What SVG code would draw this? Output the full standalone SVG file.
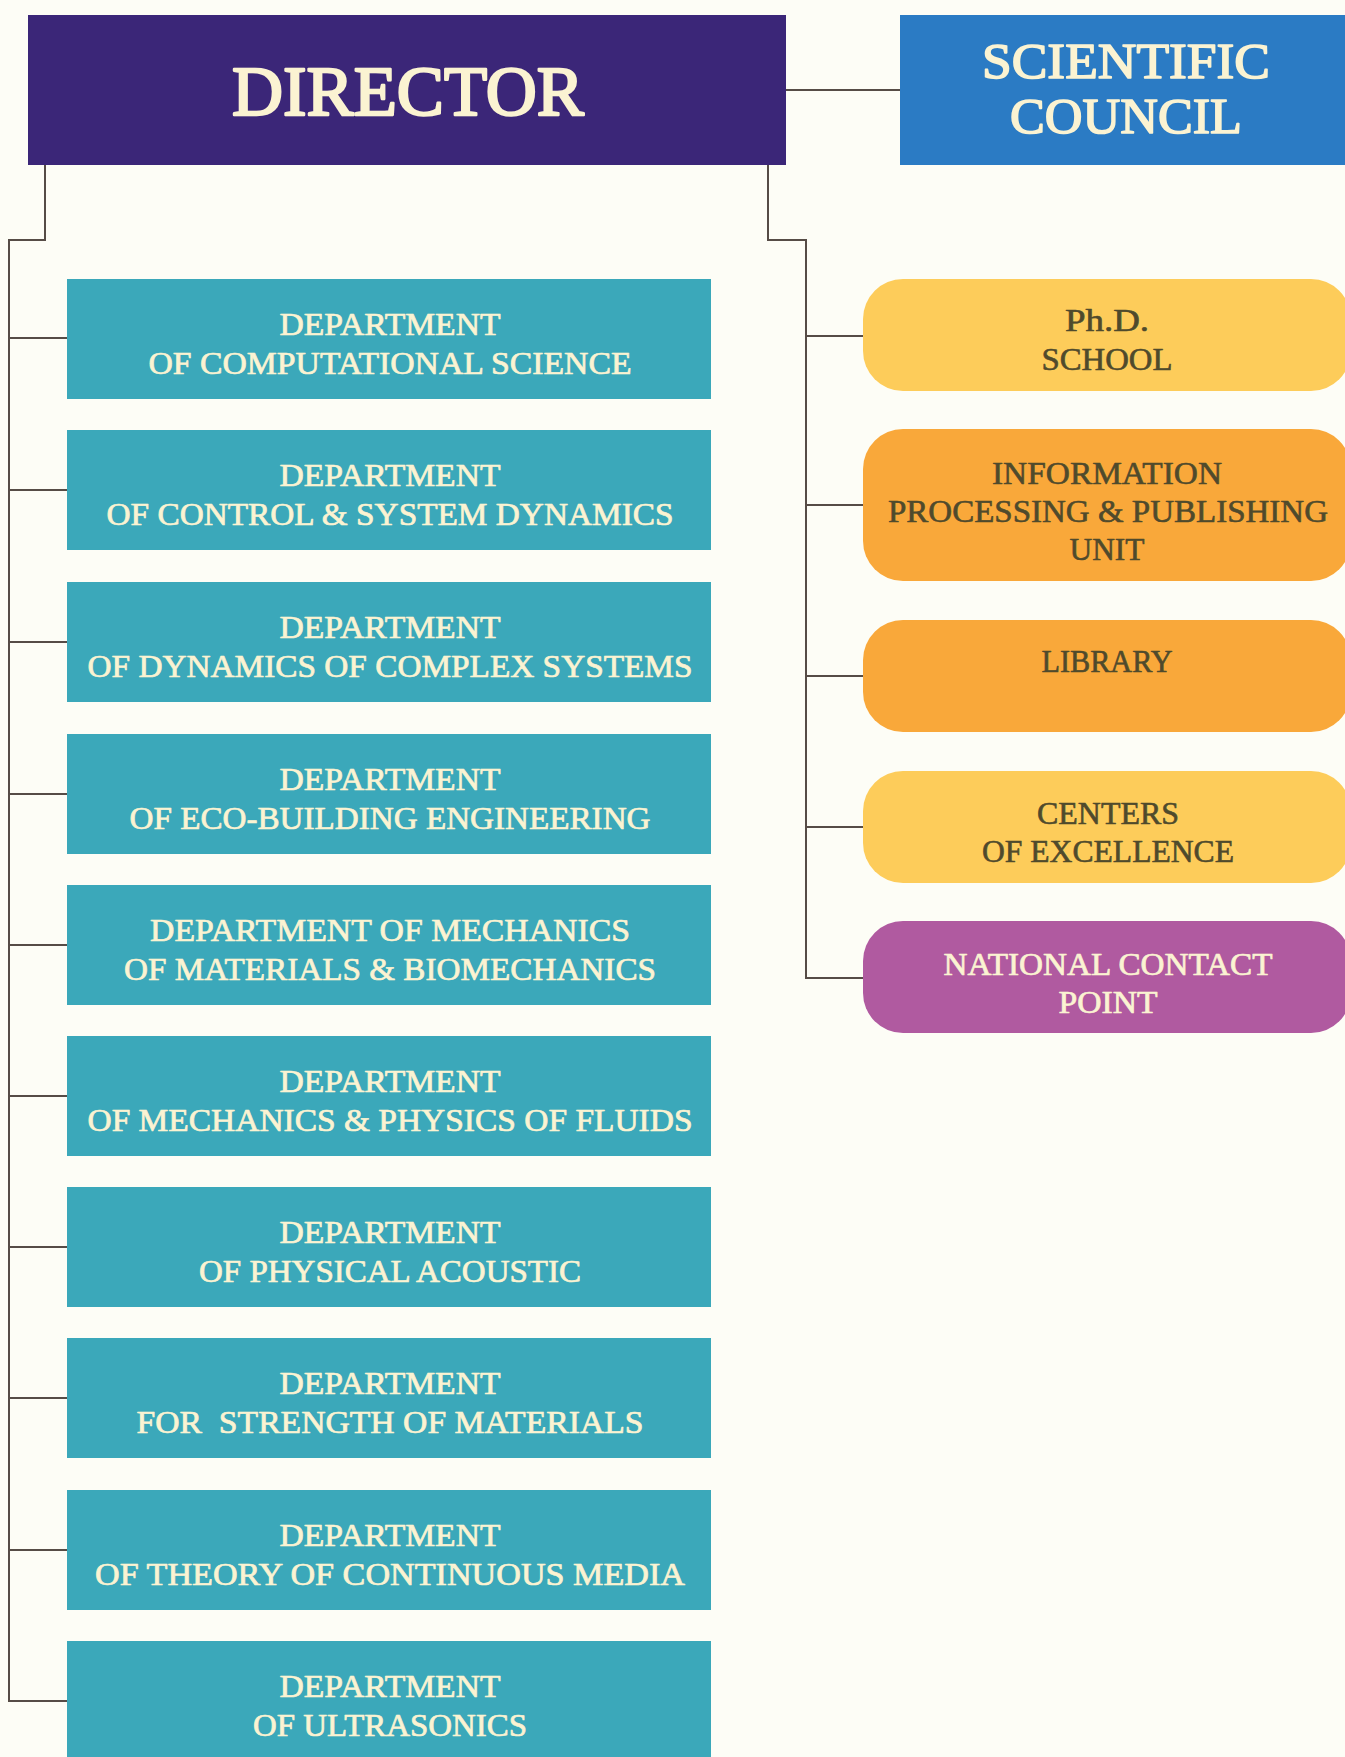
<svg xmlns="http://www.w3.org/2000/svg" width="1345" height="1757" viewBox="0 0 1345 1757">
  <style>
    .bg { fill: #fdfdf6; }
    .head { fill: #3b2678; }
    .council { fill: #2b7bc4; }
    .dept { fill: #3ba8ba; }
    .pill-y { fill: #fdcc5a; }
    .pill-o { fill: #f9a83a; }
    .pill-p { fill: #b05aa0; }
    .link { fill: none; stroke: #564c46; stroke-width: 2; }
    text { font-family: "Liberation Serif", "DejaVu Serif", serif; text-anchor: middle; stroke-linejoin: round; }
    .t-big { font-size: 70px; fill: #fbf3d2; stroke: #fbf3d2; stroke-width: 2.4px; }
    .t-sc { font-size: 51px; fill: #fbf3d2; stroke: #fbf3d2; stroke-width: 1.6px; }
    .t-dept { font-size: 31px; fill: #fbf3d2; stroke: #fbf3d2; stroke-width: 0.7px; }
    .t-pill { font-size: 31px; fill: #4f4a2c; stroke: #4f4a2c; stroke-width: 0.6px; }
    .t-pill-light { font-size: 31px; fill: #fbf3d2; stroke: #fbf3d2; stroke-width: 0.7px; }
  </style>

  <rect class="bg" x="0" y="0" width="1345" height="1757"/>

  <!-- connectors -->
  <g id="connectors">
    <path class="link" d="M786,90 H900"/>
    <path class="link" d="M45,165 V240 H9 V1701 H67"/>
    <path class="link" d="M9,338 H67 M9,490 H67 M9,642 H67 M9,794 H67 M9,945 H67 M9,1096 H67 M9,1247 H67 M9,1398 H67 M9,1550 H67"/>
    <path class="link" d="M768,165 V240 H806 V978 H863"/>
    <path class="link" d="M806,336 H863 M806,505 H863 M806,676 H863 M806,827 H863"/>
  </g>

  <!-- top level -->
  <g id="director">
    <rect class="head" x="28" y="15" width="758" height="150"/>
    <text class="t-big" x="408" y="115" textLength="352" lengthAdjust="spacingAndGlyphs">DIRECTOR</text>
  </g>
  <g id="scientific-council">
    <rect class="council" x="900" y="15" width="445" height="150"/>
    <text class="t-sc" x="1126" y="78" textLength="288" lengthAdjust="spacingAndGlyphs">SCIENTIFIC</text>
    <text class="t-sc" x="1126" y="133" textLength="232" lengthAdjust="spacingAndGlyphs">COUNCIL</text>
  </g>

  <!-- departments -->
  <g id="dept-computational-science">
    <rect class="dept" x="67" y="279" width="644" height="120"/>
    <text class="t-dept" x="390" y="335" textLength="221" lengthAdjust="spacingAndGlyphs">DEPARTMENT</text>
    <text class="t-dept" x="390" y="374" textLength="483" lengthAdjust="spacingAndGlyphs">OF COMPUTATIONAL SCIENCE</text>
  </g>
  <g id="dept-control-system-dynamics">
    <rect class="dept" x="67" y="430" width="644" height="120"/>
    <text class="t-dept" x="390" y="486" textLength="221" lengthAdjust="spacingAndGlyphs">DEPARTMENT</text>
    <text class="t-dept" x="390" y="525" textLength="567" lengthAdjust="spacingAndGlyphs">OF CONTROL &amp; SYSTEM DYNAMICS</text>
  </g>
  <g id="dept-complex-systems">
    <rect class="dept" x="67" y="582" width="644" height="120"/>
    <text class="t-dept" x="390" y="638" textLength="221" lengthAdjust="spacingAndGlyphs">DEPARTMENT</text>
    <text class="t-dept" x="390" y="677" textLength="605" lengthAdjust="spacingAndGlyphs">OF DYNAMICS OF COMPLEX SYSTEMS</text>
  </g>
  <g id="dept-eco-building">
    <rect class="dept" x="67" y="734" width="644" height="120"/>
    <text class="t-dept" x="390" y="790" textLength="221" lengthAdjust="spacingAndGlyphs">DEPARTMENT</text>
    <text class="t-dept" x="390" y="829" textLength="521" lengthAdjust="spacingAndGlyphs">OF ECO-BUILDING ENGINEERING</text>
  </g>
  <g id="dept-materials-biomechanics">
    <rect class="dept" x="67" y="885" width="644" height="120"/>
    <text class="t-dept" x="390" y="941" textLength="480" lengthAdjust="spacingAndGlyphs">DEPARTMENT OF MECHANICS</text>
    <text class="t-dept" x="390" y="980" textLength="532" lengthAdjust="spacingAndGlyphs">OF MATERIALS &amp; BIOMECHANICS</text>
  </g>
  <g id="dept-fluids">
    <rect class="dept" x="67" y="1036" width="644" height="120"/>
    <text class="t-dept" x="390" y="1092" textLength="221" lengthAdjust="spacingAndGlyphs">DEPARTMENT</text>
    <text class="t-dept" x="390" y="1131" textLength="605" lengthAdjust="spacingAndGlyphs">OF MECHANICS &amp; PHYSICS OF FLUIDS</text>
  </g>
  <g id="dept-physical-acoustic">
    <rect class="dept" x="67" y="1187" width="644" height="120"/>
    <text class="t-dept" x="390" y="1243" textLength="221" lengthAdjust="spacingAndGlyphs">DEPARTMENT</text>
    <text class="t-dept" x="390" y="1282" textLength="382" lengthAdjust="spacingAndGlyphs">OF PHYSICAL ACOUSTIC</text>
  </g>
  <g id="dept-strength-of-materials">
    <rect class="dept" x="67" y="1338" width="644" height="120"/>
    <text class="t-dept" x="390" y="1394" textLength="221" lengthAdjust="spacingAndGlyphs">DEPARTMENT</text>
    <text class="t-dept" x="390" y="1433" textLength="507" lengthAdjust="spacingAndGlyphs" xml:space="preserve">FOR  STRENGTH OF MATERIALS</text>
  </g>
  <g id="dept-continuous-media">
    <rect class="dept" x="67" y="1490" width="644" height="120"/>
    <text class="t-dept" x="390" y="1546" textLength="221" lengthAdjust="spacingAndGlyphs">DEPARTMENT</text>
    <text class="t-dept" x="390" y="1585" textLength="590" lengthAdjust="spacingAndGlyphs">OF THEORY OF CONTINUOUS MEDIA</text>
  </g>
  <g id="dept-ultrasonics">
    <rect class="dept" x="67" y="1641" width="644" height="125"/>
    <text class="t-dept" x="390" y="1697" textLength="221" lengthAdjust="spacingAndGlyphs">DEPARTMENT</text>
    <text class="t-dept" x="390" y="1736" textLength="274" lengthAdjust="spacingAndGlyphs">OF ULTRASONICS</text>
  </g>

  <!-- units -->
  <g id="phd-school">
    <rect class="pill-y" x="863" y="279" width="488" height="112" rx="40" ry="40"/>
    <text class="t-pill" x="1107" y="331" textLength="84" lengthAdjust="spacingAndGlyphs">Ph.D.</text>
    <text class="t-pill" x="1107" y="370" textLength="131" lengthAdjust="spacingAndGlyphs">SCHOOL</text>
  </g>
  <g id="publishing-unit">
    <rect class="pill-o" x="863" y="429" width="488" height="152" rx="40" ry="40"/>
    <text class="t-pill" x="1107" y="484" textLength="230" lengthAdjust="spacingAndGlyphs">INFORMATION</text>
    <text class="t-pill" x="1108" y="522" textLength="440" lengthAdjust="spacingAndGlyphs">PROCESSING &amp; PUBLISHING</text>
    <text class="t-pill" x="1107" y="560" textLength="75" lengthAdjust="spacingAndGlyphs">UNIT</text>
  </g>
  <g id="library">
    <rect class="pill-o" x="863" y="620" width="488" height="112" rx="40" ry="40"/>
    <text class="t-pill" x="1107" y="672" textLength="131" lengthAdjust="spacingAndGlyphs">LIBRARY</text>
  </g>
  <g id="centers-of-excellence">
    <rect class="pill-y" x="863" y="771" width="488" height="112" rx="40" ry="40"/>
    <text class="t-pill" x="1108" y="824" textLength="142" lengthAdjust="spacingAndGlyphs">CENTERS</text>
    <text class="t-pill" x="1108" y="862" textLength="252" lengthAdjust="spacingAndGlyphs">OF EXCELLENCE</text>
  </g>
  <g id="national-contact-point">
    <rect class="pill-p" x="863" y="921" width="488" height="112" rx="40" ry="40"/>
    <text class="t-pill-light" x="1108" y="975" textLength="329" lengthAdjust="spacingAndGlyphs">NATIONAL CONTACT</text>
    <text class="t-pill-light" x="1108" y="1013" textLength="99" lengthAdjust="spacingAndGlyphs">POINT</text>
  </g>
</svg>
